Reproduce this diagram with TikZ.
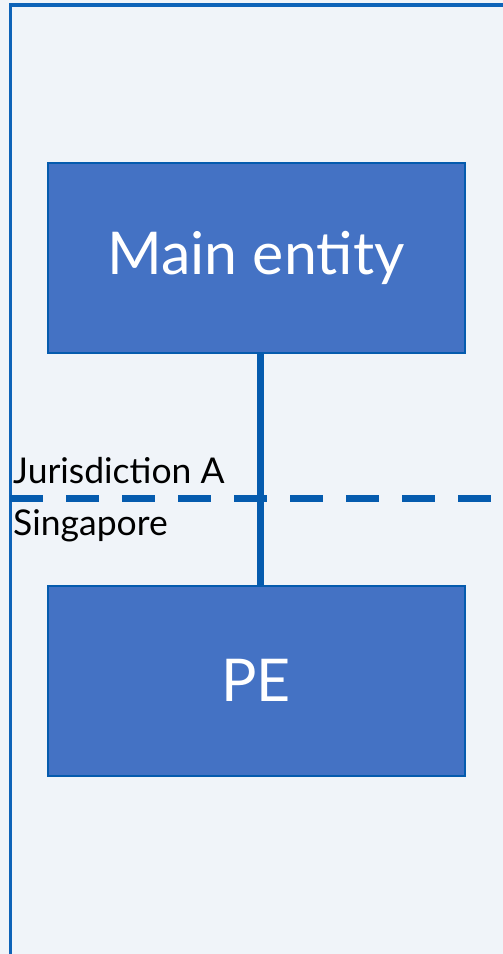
\documentclass[tikz,border=0pt]{standalone}
\usepackage{fontspec}
\setmainfont{Lato}
\definecolor{bgpale}{HTML}{F0F4F9}
\definecolor{linkblue}{HTML}{055BAE}
\definecolor{framblue}{HTML}{0E63B8}
\definecolor{boxfill}{HTML}{4472C4}
\begin{document}
\begin{tikzpicture}[x=1pt,y=-1pt,
  entity/.style={draw=linkblue, line width=2pt, fill=boxfill, text=white,
    minimum width=417pt, minimum height=190pt, inner sep=0pt,
    font=\fontsize{59}{70}\selectfont},
  link/.style={draw=linkblue, line width=7pt},
  border/.style={draw=framblue, line width=3.2pt},
  region/.style={anchor=base west, inner sep=0pt, font=\fontsize{35.5}{42}\selectfont}]
  \useasboundingbox (0,0) rectangle (503,954);
  \clip (0,0) rectangle (503,954);
  \fill[bgpale] (0,0) rectangle (503,954);
  % outer frame (right and bottom edges lie past the page)
  \draw[border] (10.8,5) rectangle (520,980);
  % jurisdiction boundary
  \coordinate (bl) at (10,498);
  \coordinate (br) at (503,498);
  \draw[linkblue, line width=7pt, dash pattern=on 33pt off 23pt] (bl) -- (br);
  \node[region] (ja) at (13,483) {Jurisdiction A};
  \node[region] (sg) at (13,535) {Singapore};
  % entities
  \node[entity] (main) at (256,257.5) {Main entity};
  \node[entity] (pe) at (256,680.5) {PE};
  \draw[link] (main.south -| 260,0) -- (pe.north -| 260,0);
\end{tikzpicture}
\end{document}
